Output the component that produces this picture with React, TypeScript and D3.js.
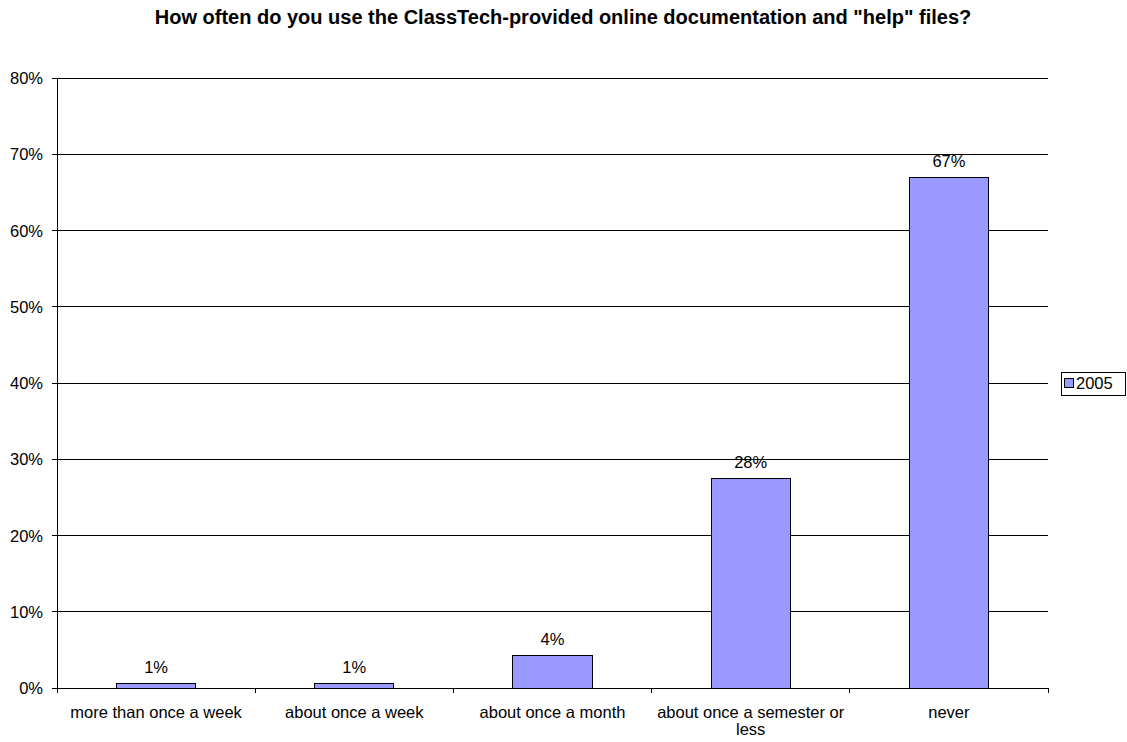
import React from "react";
import * as d3 from "d3";

const categories: string[][] = [
  ["more than once a week"],
  ["about once a week"],
  ["about once a month"],
  ["about once a semester or", "less"],
  ["never"],
];
const values2005: number[] = [0.6, 0.6, 4.2, 27.5, 67.0];
const yTicks: number[] = [0, 10, 20, 30, 40, 50, 60, 70, 80];
const seriesName = "2005";
const title = 'How often do you use the ClassTech-provided online documentation and "help" files?';

const W = 1127;
const H = 742;
const M = { left: 57, right: 1048, top: 78, bottom: 688 };
const FONT = "'Liberation Sans', Arial, sans-serif";
const BAR = "#9999FF";
const FS = 16.5;

export default function App() {
  const x = d3
    .scaleBand<number>()
    .domain(categories.map((_, i) => i))
    .range([M.left, M.right])
    .paddingInner(0)
    .paddingOuter(0);
  const y = d3.scaleLinear().domain([0, 80]).range([M.bottom, M.top]);
  const bw = x.bandwidth();
  const barW = bw * 0.4;

  return (
    <svg
      width={W}
      height={H}
      style={{ position: "absolute", left: 0, top: 0, background: "#fff" }}
      fontFamily={FONT}
    >
      <rect x={0} y={0} width={W} height={H} fill="#fff" />
      <text x={563} y={24} textAnchor="middle" fontSize={20} fontWeight="bold" fill="#000">
        {title}
      </text>
      {yTicks.map((t) => (
        <g key={t}>
          {t > 0 && (
            <line x1={M.left} x2={M.right} y1={y(t)} y2={y(t)} stroke="#000" strokeWidth={1} shapeRendering="crispEdges" />
          )}
          <line x1={M.left - 5} x2={M.left} y1={y(t)} y2={y(t)} stroke="#000" strokeWidth={1} shapeRendering="crispEdges" />
          <text x={M.left - 14} y={y(t) + 6} textAnchor="end" fontSize={FS} fill="#000">
            {t}%
          </text>
        </g>
      ))}
      {values2005.map((v, i) => {
        const cx = (x(i) as number) + bw / 2;
        return (
          <g key={i}>
            <rect
              x={cx - barW / 2}
              y={y(v)}
              width={barW}
              height={y(0) - y(v)}
              fill={BAR}
              stroke="#000"
              strokeWidth={1}
              shapeRendering="crispEdges"
            />
            <text x={cx} y={y(v) - 10.5} textAnchor="middle" fontSize={FS} fill="#000">
              {Math.round(v)}%
            </text>
          </g>
        );
      })}
      <line x1={M.left} x2={M.left} y1={M.top} y2={M.bottom} stroke="#000" shapeRendering="crispEdges" />
      <line x1={M.left} x2={M.right} y1={M.bottom} y2={M.bottom} stroke="#000" shapeRendering="crispEdges" />
      {categories.map((_, i) => (
        <line
          key={"t" + i}
          x1={(x(i) as number) + bw}
          x2={(x(i) as number) + bw}
          y1={M.bottom}
          y2={M.bottom + 5}
          stroke="#000"
          shapeRendering="crispEdges"
        />
      ))}
      <line x1={M.left} x2={M.left} y1={M.bottom} y2={M.bottom + 5} stroke="#000" shapeRendering="crispEdges" />
      {categories.map((lines, i) => (
        <text key={"c" + i} textAnchor="middle" fontSize={FS} fill="#000">
          {lines.map((l, j) => (
            <tspan key={j} x={(x(i) as number) + bw / 2} y={718 + j * 17}>
              {l}
            </tspan>
          ))}
        </text>
      ))}
      <rect x={1061.5} y={372.5} width={64} height={23} fill="#fff" stroke="#000" strokeWidth={1} />
      <rect x={1064.5} y={378.5} width={9} height={9} fill={BAR} stroke="#000" strokeWidth={1} />
      <text x={1076} y={389} fontSize={FS} fill="#000">
        {seriesName}
      </text>
    </svg>
  );
}
